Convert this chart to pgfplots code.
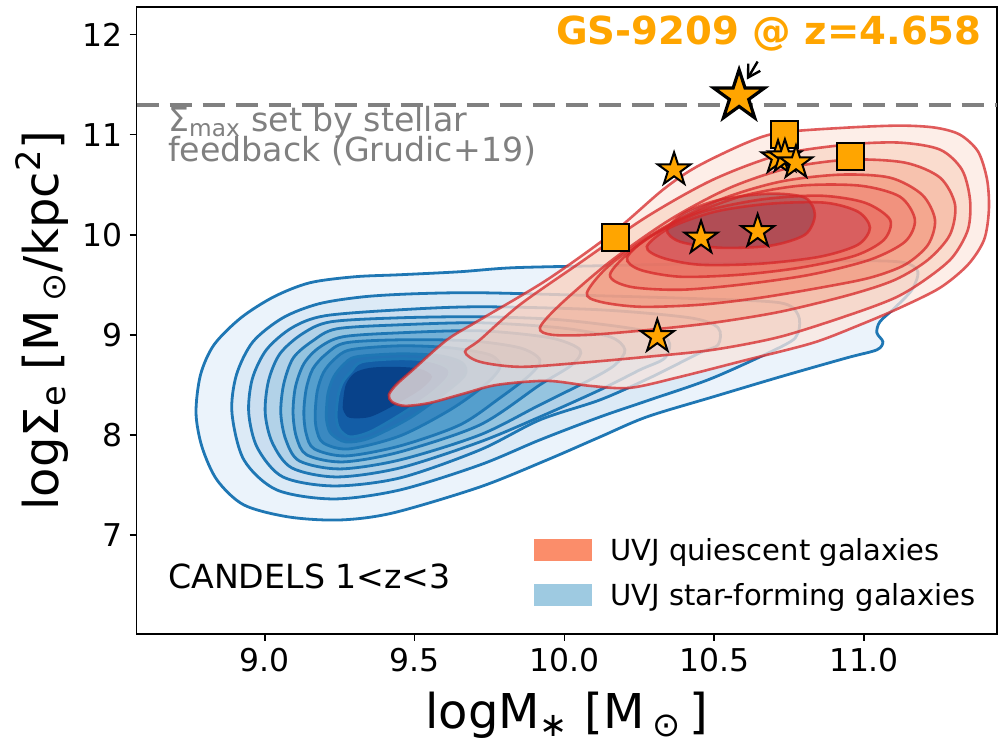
\documentclass[border=0pt]{standalone}
\usepackage{fontspec}
\setmainfont{DejaVu Sans}
\usepackage{pgfplots}
\usepackage{pgfplotstable}
\pgfplotsset{compat=1.18}
\usetikzlibrary{arrows.meta}
\newcommand\tightlines{\lineskiplimit=-20pt\relax\lineskip=0pt\relax}

\definecolor{bA}{HTML}{EBF3FB}
\definecolor{bB}{HTML}{DCEAF6}
\definecolor{bC}{HTML}{CADEF0}
\definecolor{bD}{HTML}{B2D2E8}
\definecolor{bE}{HTML}{95C4DF}
\definecolor{bF}{HTML}{74B1D7}
\definecolor{bG}{HTML}{559FCD}
\definecolor{bH}{HTML}{3A89C1}
\definecolor{bI}{HTML}{2372B4}
\definecolor{bJ}{HTML}{135DA6}
\definecolor{bK}{HTML}{08428A}
\definecolor{bline}{HTML}{1F77B4}
\definecolor{rA}{HTML}{FCE8E0}
\definecolor{rB}{HTML}{F6B295}
\definecolor{rC}{HTML}{F18964}
\definecolor{rD}{HTML}{EF7659}
\definecolor{rE}{HTML}{EC6C5E}
\definecolor{rF}{HTML}{E3544D}
\definecolor{rG}{HTML}{C44053}
\definecolor{rH}{HTML}{8A3E4E}
\definecolor{rline}{HTML}{D62728}
\definecolor{mko}{HTML}{FFA500}
\definecolor{legred}{HTML}{FB8D6A}
\definecolor{legblue}{HTML}{9ECAE1}

\pgfdeclareplotmark{fstar}{%
\pgfpathmoveto{\pgfpointpolar{90}{\pgfplotmarksize}}%
\pgfpathlineto{\pgfpointpolar{126}{0.382\pgfplotmarksize}}%
\pgfpathlineto{\pgfpointpolar{162}{\pgfplotmarksize}}%
\pgfpathlineto{\pgfpointpolar{198}{0.382\pgfplotmarksize}}%
\pgfpathlineto{\pgfpointpolar{234}{\pgfplotmarksize}}%
\pgfpathlineto{\pgfpointpolar{270}{0.382\pgfplotmarksize}}%
\pgfpathlineto{\pgfpointpolar{306}{\pgfplotmarksize}}%
\pgfpathlineto{\pgfpointpolar{342}{0.382\pgfplotmarksize}}%
\pgfpathlineto{\pgfpointpolar{18}{\pgfplotmarksize}}%
\pgfpathlineto{\pgfpointpolar{54}{0.382\pgfplotmarksize}}%
\pgfpathclose
\pgfusepathqfillstroke}

% ---- blue (star-forming) contours
\pgfplotstableread[row sep=\\]{x y\\
8.770 8.22\\ 8.785 8.60\\ 8.830 8.90\\ 8.920 9.17\\ 9.030 9.38\\ 9.150 9.52\\ 9.300 9.58\\ 9.450 9.60\\ 9.650 9.63\\ 9.828 9.67\\ 10.119 9.69\\ 10.452 9.71\\ 10.786 9.73\\ 11.020 9.74\\ 11.137 9.72\\ 11.180 9.63\\ 11.160 9.45\\ 11.103 9.27\\ 11.053 9.13\\ 11.043 9.02\\ 11.063 8.93\\ 11.043 8.85\\ 10.943 8.77\\ 10.720 8.58\\ 10.496 8.38\\ 10.275 8.18\\ 10.119 7.98\\ 9.942 7.75\\ 9.718 7.48\\ 9.427 7.22\\ 9.250 7.15\\ 9.080 7.18\\ 8.930 7.30\\ 8.840 7.55\\ 8.790 7.88\\
}\BA
\pgfplotstableread[row sep=\\]{x y\\
8.890 8.22\\ 8.905 8.60\\ 8.960 8.93\\ 9.060 9.17\\ 9.180 9.31\\ 9.330 9.38\\ 9.500 9.41\\ 9.718 9.42\\ 10.119 9.39\\ 10.452 9.36\\ 10.720 9.32\\ 10.780 9.20\\ 10.780 9.02\\ 10.736 8.90\\ 10.496 8.57\\ 10.285 8.35\\ 10.119 8.18\\ 9.918 7.95\\ 9.718 7.70\\ 9.451 7.45\\ 9.230 7.36\\ 9.040 7.45\\ 8.930 7.75\\
}\BB
\pgfplotstableread[row sep=\\]{x y\\
8.946 8.22\\ 8.958 8.56\\ 9.005 8.85\\ 9.090 9.07\\ 9.200 9.19\\ 9.451 9.25\\ 9.718 9.28\\ 10.119 9.25\\ 10.419 9.17\\ 10.513 9.07\\ 10.513 8.90\\ 10.452 8.82\\ 10.285 8.57\\ 10.119 8.35\\ 9.918 8.15\\ 9.718 7.85\\ 9.451 7.57\\ 9.230 7.49\\ 9.060 7.58\\ 8.975 7.87\\
}\BC
\pgfplotstableread[row sep=\\]{x y\\
9.001 8.22\\ 9.012 8.54\\ 9.050 8.81\\ 9.125 9.01\\ 9.220 9.13\\ 9.451 9.17\\ 9.718 9.18\\ 9.985 9.15\\ 10.252 9.05\\ 10.346 8.95\\ 10.336 8.77\\ 10.252 8.65\\ 10.119 8.45\\ 9.918 8.18\\ 9.718 7.93\\ 9.451 7.67\\ 9.240 7.58\\ 9.090 7.67\\ 9.025 7.92\\
}\BD
\pgfplotstableread[row sep=\\]{x y\\
9.053 8.22\\ 9.063 8.51\\ 9.095 8.77\\ 9.160 8.94\\ 9.240 9.06\\ 9.451 9.10\\ 9.718 9.12\\ 9.985 9.07\\ 10.152 8.98\\ 10.202 8.85\\ 10.169 8.70\\ 10.085 8.55\\ 9.918 8.30\\ 9.718 8.00\\ 9.451 7.75\\ 9.250 7.66\\ 9.115 7.74\\ 9.070 7.95\\
}\BE
\pgfplotstableread[row sep=\\]{x y\\
9.094 8.22\\ 9.102 8.48\\ 9.130 8.71\\ 9.180 8.87\\ 9.260 8.98\\ 9.451 9.02\\ 9.718 9.04\\ 9.952 8.97\\ 10.052 8.85\\ 10.025 8.70\\ 9.918 8.50\\ 9.718 8.10\\ 9.451 7.83\\ 9.260 7.73\\ 9.140 7.80\\ 9.105 7.98\\
}\BF
\pgfplotstableread[row sep=\\]{x y\\
9.130 8.22\\ 9.138 8.46\\ 9.160 8.66\\ 9.205 8.81\\ 9.270 8.92\\ 9.451 8.95\\ 9.684 8.94\\ 9.851 8.87\\ 9.918 8.75\\ 9.885 8.60\\ 9.785 8.37\\ 9.651 8.10\\ 9.451 7.89\\ 9.270 7.79\\ 9.165 7.86\\ 9.138 8.01\\
}\BG
\pgfplotstableread[row sep=\\]{x y\\
9.168 8.22\\ 9.175 8.44\\ 9.195 8.62\\ 9.230 8.75\\ 9.285 8.85\\ 9.451 8.89\\ 9.618 8.87\\ 9.751 8.80\\ 9.785 8.68\\ 9.735 8.50\\ 9.618 8.25\\ 9.451 7.99\\ 9.280 7.86\\ 9.195 7.92\\ 9.172 8.06\\
}\BH
\pgfplotstableread[row sep=\\]{x y\\
9.205 8.22\\ 9.211 8.42\\ 9.230 8.58\\ 9.262 8.70\\ 9.305 8.78\\ 9.451 8.81\\ 9.584 8.79\\ 9.658 8.72\\ 9.668 8.60\\ 9.601 8.42\\ 9.484 8.17\\ 9.351 7.97\\ 9.270 7.93\\ 9.222 8.01\\ 9.208 8.11\\
}\BI
\pgfplotstableread[row sep=\\]{x y\\
9.238 8.22\\ 9.245 8.40\\ 9.260 8.53\\ 9.287 8.63\\ 9.324 8.73\\ 9.451 8.76\\ 9.551 8.74\\ 9.611 8.67\\ 9.611 8.57\\ 9.551 8.40\\ 9.451 8.20\\ 9.351 8.03\\ 9.284 7.98\\ 9.250 8.05\\ 9.240 8.13\\
}\BJ
\pgfplotstableread[row sep=\\]{x y\\
9.260 8.30\\ 9.270 8.50\\ 9.300 8.62\\ 9.351 8.67\\ 9.434 8.68\\ 9.518 8.66\\ 9.558 8.58\\ 9.518 8.45\\ 9.434 8.30\\ 9.351 8.18\\ 9.284 8.17\\ 9.264 8.23\\
}\BK

% ---- red (quiescent) contours
\pgfplotstableread[row sep=\\]{x y\\
9.414 8.40\\ 9.438 8.50\\ 9.494 8.65\\ 9.608 8.95\\ 9.718 9.15\\ 9.942 9.55\\ 10.162 10.02\\ 10.329 10.45\\ 10.442 10.68\\ 10.609 10.92\\ 10.720 11.02\\ 10.943 11.07\\ 11.120 11.09\\ 11.237 11.07\\ 11.320 11.00\\ 11.381 10.83\\ 11.411 10.55\\ 11.417 10.25\\ 11.401 9.95\\ 11.347 9.70\\ 11.254 9.47\\ 11.120 9.27\\ 10.987 9.10\\ 10.830 8.92\\ 10.609 8.75\\ 10.386 8.58\\ 10.219 8.47\\ 10.085 8.49\\ 9.942 8.54\\ 9.775 8.50\\ 9.661 8.41\\ 9.551 8.32\\ 9.467 8.29\\ 9.424 8.33\\
}\RA
\pgfplotstableread[row sep=\\]{x y\\
9.668 8.83\\ 9.718 8.95\\ 9.851 9.30\\ 10.052 9.72\\ 10.275 10.18\\ 10.496 10.55\\ 10.720 10.80\\ 10.943 10.90\\ 11.120 10.92\\ 11.254 10.85\\ 11.327 10.65\\ 11.354 10.35\\ 11.347 10.05\\ 11.294 9.77\\ 11.204 9.55\\ 11.104 9.37\\ 10.953 9.20\\ 10.720 8.98\\ 10.496 8.85\\ 10.275 8.78\\ 10.052 8.72\\ 9.851 8.68\\ 9.718 8.73\\
}\RB
\pgfplotstableread[row sep=\\]{x y\\
9.918 9.07\\ 9.985 9.30\\ 10.152 9.73\\ 10.352 10.15\\ 10.553 10.47\\ 10.753 10.67\\ 10.953 10.75\\ 11.137 10.72\\ 11.254 10.57\\ 11.304 10.30\\ 11.287 10.00\\ 11.214 9.75\\ 11.104 9.55\\ 10.953 9.40\\ 10.720 9.23\\ 10.496 9.12\\ 10.285 9.05\\ 10.085 9.00\\ 9.958 9.00\\
}\RC
\pgfplotstableread[row sep=\\]{x y\\
10.075 9.42\\ 10.152 9.70\\ 10.319 10.05\\ 10.519 10.35\\ 10.720 10.53\\ 10.920 10.60\\ 11.087 10.57\\ 11.194 10.40\\ 11.237 10.15\\ 11.214 9.90\\ 11.137 9.70\\ 11.020 9.57\\ 10.853 9.47\\ 10.653 9.37\\ 10.452 9.30\\ 10.252 9.28\\ 10.119 9.33\\
}\RD
\pgfplotstableread[row sep=\\]{x y\\
10.152 9.60\\ 10.235 9.87\\ 10.386 10.15\\ 10.586 10.38\\ 10.786 10.49\\ 10.987 10.49\\ 11.120 10.38\\ 11.170 10.15\\ 11.137 9.93\\ 11.020 9.75\\ 10.820 9.60\\ 10.586 9.50\\ 10.386 9.45\\ 10.219 9.48\\
}\RE
\pgfplotstableread[row sep=\\]{x y\\
10.209 9.77\\ 10.285 9.98\\ 10.452 10.22\\ 10.653 10.35\\ 10.853 10.39\\ 11.003 10.32\\ 11.087 10.15\\ 11.067 9.95\\ 10.970 9.79\\ 10.786 9.67\\ 10.586 9.60\\ 10.386 9.58\\ 10.252 9.65\\
}\RF
\pgfplotstableread[row sep=\\]{x y\\
10.275 9.88\\ 10.352 10.07\\ 10.503 10.23\\ 10.686 10.31\\ 10.870 10.32\\ 10.980 10.23\\ 11.020 10.07\\ 10.980 9.90\\ 10.853 9.78\\ 10.653 9.71\\ 10.452 9.70\\ 10.326 9.77\\
}\RG
\pgfplotstableread[row sep=\\]{x y\\
10.342 10.05\\ 10.402 10.22\\ 10.519 10.35\\ 10.686 10.41\\ 10.803 10.37\\ 10.836 10.20\\ 10.803 10.00\\ 10.686 9.89\\ 10.519 9.87\\ 10.386 9.93\\
}\RH

% ---- galaxies
\pgfplotstableread[row sep=\\]{x y\\
10.366 10.65\\ 10.456 9.967\\ 10.645 10.033\\ 10.310 8.983\\ 10.713 10.77\\ 10.736 10.78\\ 10.773 10.72\\
}\Stars
\pgfplotstableread[row sep=\\]{x y\\
10.736 11.00\\ 10.955 10.777\\ 10.171 9.977\\
}\Squares

\begin{document}
\begin{tikzpicture}
\begin{axis}[
  name=ax,
  scale only axis,
  width=430.15pt, height=313.35pt,
  xmin=8.572, xmax=11.444, ymin=6.011, ymax=12.272,
  axis line style={line width=0.8pt},
  every tick/.style={black, line width=0.8pt},
  major tick length=3.5pt,
  tick align=outside,
  tick pos=left,
  xtick={9,9.5,10,10.5,11},
  ytick={7,8,9,10,11,12},
  x tick label style={/pgf/number format/.cd, fixed, fixed zerofill, precision=1},
  /pgf/number format/assume math mode=true,
  ticklabel style={font=\fontsize{15.7}{18}\selectfont},
  xlabel={logM\textsubscript{∗} [M\,\textsubscript{⊙}\,]},
  ylabel={logΣ\textsubscript{e} [M\,\textsubscript{⊙}/kpc\textsuperscript{2}]},
  label style={font=\fontsize{24}{28}\selectfont},
  xlabel style={at={(axis description cs:0.5,0)}, anchor=base, yshift=-47.5pt},
  ylabel style={at={(axis description cs:0,0.5)}, anchor=base, rotate=0, yshift=39.3pt},
  legend style={at={(axis cs:9.898,6.97)}, anchor=north west, draw=none, fill=none,
    inner sep=0pt, row sep=10pt, font=\fontsize{14.5}{17}\selectfont,
    nodes={inner sep=0pt}},
  legend cell align=left,
  legend image code/.code={\fill[#1] (0pt,-5pt) rectangle (29pt,6pt); \path (38pt,0pt);},
]
\addlegendimage{fill=legred, draw=none}
\addlegendentry{UVJ quiescent galaxies}
\addlegendimage{fill=legblue, draw=none}
\addlegendentry{UVJ star-forming galaxies}

% blue filled contours with lines
\addplot[smooth cycle, fill=bA, draw=bline, line width=1.4pt] table {\BA};
\addplot[smooth cycle, fill=bB, draw=bline, line width=1.4pt] table {\BB};
\addplot[smooth cycle, fill=bC, draw=bline, line width=1.4pt] table {\BC};
\addplot[smooth cycle, fill=bD, draw=bline, line width=1.4pt] table {\BD};
\addplot[smooth cycle, fill=bE, draw=bline, line width=1.4pt] table {\BE};
\addplot[smooth cycle, fill=bF, draw=bline, line width=1.4pt] table {\BF};
\addplot[smooth cycle, fill=bG, draw=bline, line width=1.4pt] table {\BG};
\addplot[smooth cycle, fill=bH, draw=bline, line width=1.4pt] table {\BH};
\addplot[smooth cycle, fill=bI, draw=bline, line width=1.4pt] table {\BI};
\addplot[smooth cycle, fill=bJ, draw=bline, line width=1.4pt] table {\BJ};
\addplot[smooth cycle, fill=bK, draw=none] table {\BK};

% red filled contours (semi-transparent)
\addplot[smooth cycle, fill=rA, fill opacity=0.75, draw=none] table {\RA};
\addplot[smooth cycle, fill=rB, fill opacity=0.30, draw=none] table {\RB};
\addplot[smooth cycle, fill=rC, fill opacity=0.30, draw=none] table {\RC};
\addplot[smooth cycle, fill=rD, fill opacity=0.35, draw=none] table {\RD};
\addplot[smooth cycle, fill=rE, fill opacity=0.35, draw=none] table {\RE};
\addplot[smooth cycle, fill=rF, fill opacity=0.40, draw=none] table {\RF};
\addplot[smooth cycle, fill=rG, fill opacity=0.45, draw=none] table {\RG};
\addplot[smooth cycle, fill=rH, fill opacity=0.50, draw=none] table {\RH};
\addplot[smooth cycle, draw=rline, draw opacity=0.75, line width=1.3pt] table {\RA};
\addplot[smooth cycle, draw=rline, draw opacity=0.75, line width=1.3pt] table {\RB};
\addplot[smooth cycle, draw=rline, draw opacity=0.75, line width=1.3pt] table {\RC};
\addplot[smooth cycle, draw=rline, draw opacity=0.75, line width=1.3pt] table {\RD};
\addplot[smooth cycle, draw=rline, draw opacity=0.75, line width=1.3pt] table {\RE};
\addplot[smooth cycle, draw=rline, draw opacity=0.75, line width=1.3pt] table {\RF};
\addplot[smooth cycle, draw=rline, draw opacity=0.75, line width=1.3pt] table {\RG};
\addplot[smooth cycle, draw=rline, draw opacity=0.75, line width=1.3pt] table {\RH};

% Sigma_max line
\addplot[gray, line width=2pt, dash pattern=on 11pt off 5.5pt] coordinates {(8.572,11.3) (11.444,11.3)};

% galaxies
\addplot[only marks, mark=square*, mark size=6.75pt, mark options={fill=mko, draw=black, line width=1pt}] table {\Squares};
\addplot[only marks, mark=fstar, mark size=8.7pt, mark options={fill=mko, draw=black, line width=1pt}] table {\Stars};
\addplot[only marks, mark=fstar, mark size=13.3pt, mark options={fill=mko, draw=black, line width=1.6pt}] coordinates {(10.583,11.383)};
\draw[black, line width=1.2pt, -{Straight Barb[length=6pt,width=7pt]}] (axis cs:10.645,11.73) -- (axis cs:10.609,11.55);

% texts
\node[anchor=base east, inner sep=0pt, text=mko, font=\bfseries\fontsize{19.3}{23}\selectfont] at (axis cs:11.394,11.90) {GS-9209 @ z=4.658};
\node[anchor=north west, inner sep=0pt, align=left, text=gray, font=\fontsize{16.6}{15}\selectfont\tightlines] at (axis cs:8.676,11.285) {Σ\textsubscript{max} set by stellar\\feedback (Grudic+19)};
\node[anchor=base west, inner sep=0pt, font=\fontsize{16.6}{19}\selectfont] at (axis cs:8.676,6.47) {CANDELS 1<z<3};
\end{axis}
\pgfresetboundingbox
\path[use as bounding box] ([xshift=-68.35pt,yshift=-54.5pt]ax.south west) rectangle ([xshift=1pt,yshift=3.65pt]ax.north east);
\end{tikzpicture}
\end{document}
